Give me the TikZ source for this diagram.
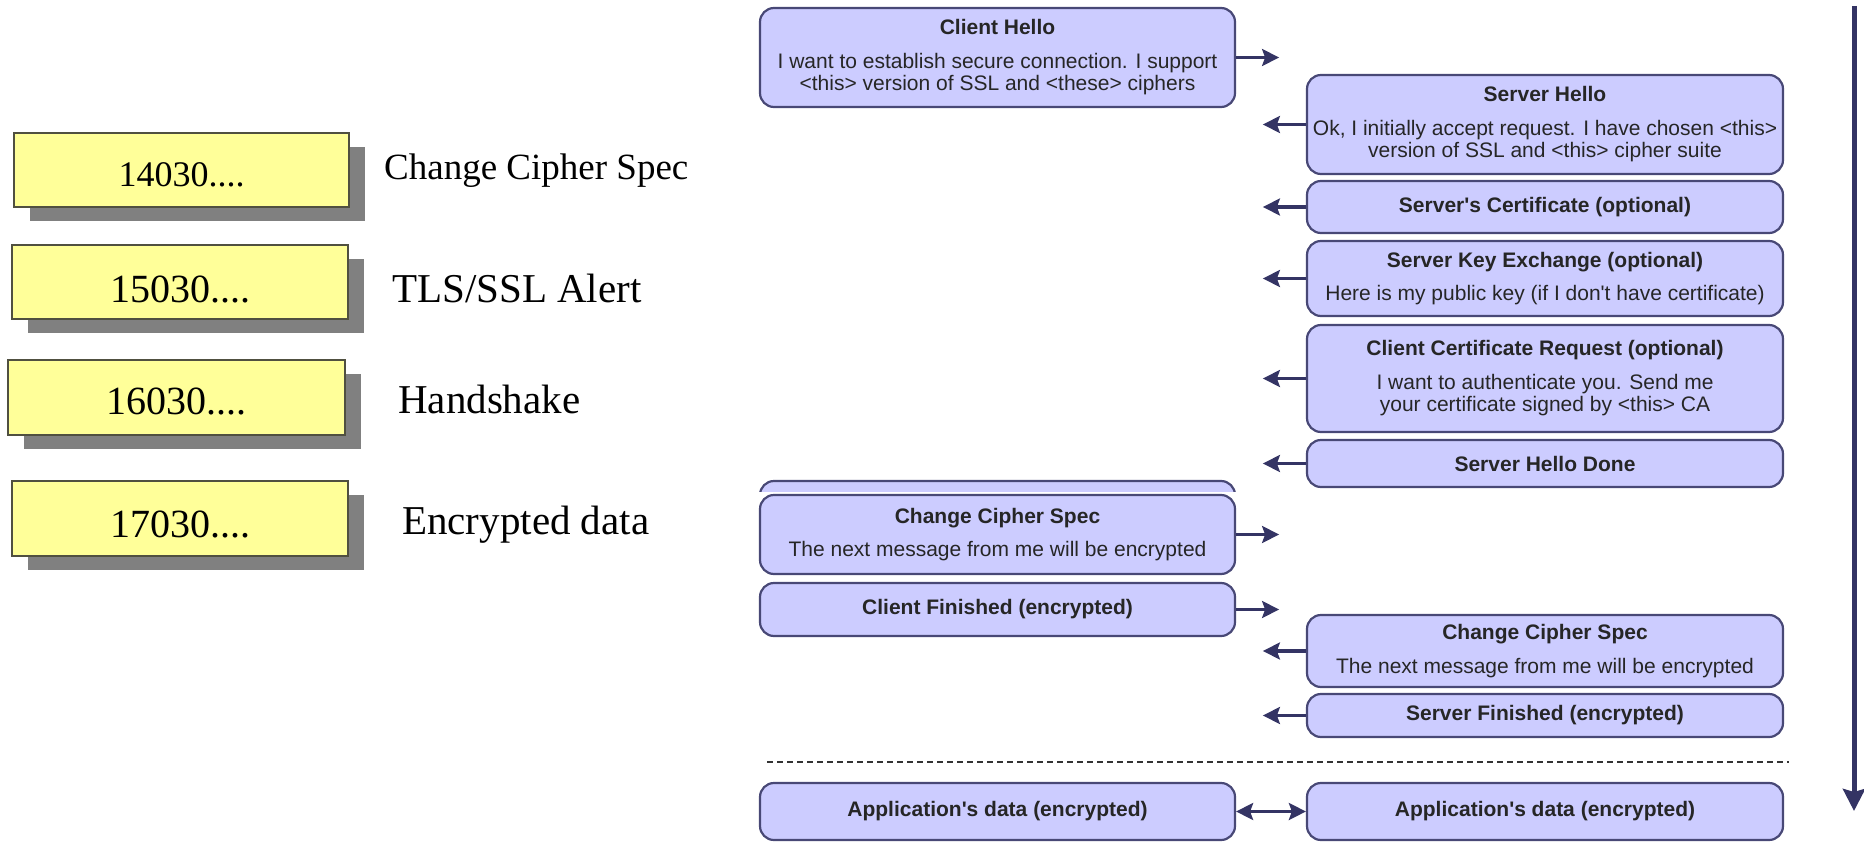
\documentclass[tikz,border=0pt]{standalone}
\usepackage{fontspec}
\setmainfont{Liberation Serif}
\newfontfamily\msgfont{Liberation Sans}
\usetikzlibrary{shadows,arrows.meta}

\definecolor{msgfill}{RGB}{204,204,255}
\definecolor{msgline}{RGB}{72,72,118}
\definecolor{flowcol}{RGB}{52,52,100}
\definecolor{recfill}{RGB}{255,255,153}
\definecolor{recline}{RGB}{80,80,64}
\definecolor{shadowgray}{RGB}{128,128,128}

\tikzset{
  msg/.style={draw=msgline, fill=msgfill, line width=2.2pt, rounded corners=14pt,
    inner sep=0pt, align=center, text=black!85,
    font=\msgfont\fontsize{21}{22.5}\selectfont},
  tip/.tip={Stealth[length=17pt, width=17pt, inset=3pt]},
  flow/.style={draw=flowcol, line width=3.2pt, -tip},
  both/.style={draw=flowcol, line width=3.2pt, tip-tip},
  record/.style={draw=recline, fill=recfill, line width=1.6pt, inner sep=0pt,
    drop shadow={shadow xshift=16pt, shadow yshift=-14pt, fill=shadowgray, opacity=1}},
  bytes/.style={inner sep=0pt, text=black},
  rectext/.style={anchor=west, inner sep=0pt, text=black}
}
\newcommand\msgtitle[1]{\textbf{#1}\\[11pt]}

\begin{document}
\begin{tikzpicture}[x=1pt, y=-1pt]
\useasboundingbox (0,0) rectangle (1864,843);

% record type bytes
\node[record, minimum width=335pt, minimum height=74pt] (r14) at (181.5,170) {};
\node[record, minimum width=336pt, minimum height=74pt] (r15) at (180,282) {};
\node[record, minimum width=337pt, minimum height=75pt] (r16) at (176.5,397.5) {};
\node[record, minimum width=336pt, minimum height=75pt] (r17) at (180,518.5) {};
\node[bytes, font=\fontsize{36}{40}\selectfont] (b14) at ([yshift=-5pt]r14.center) {14030....};
\node[bytes, font=\fontsize{40}{44}\selectfont] (b15) at ([yshift=-7pt]r15.center) {15030....};
\node[bytes, font=\fontsize{40}{44}\selectfont] (b16) at ([yshift=-4pt]r16.center) {16030....};
\node[bytes, font=\fontsize{40}{44}\selectfont] (b17) at ([yshift=-6pt]r17.center) {17030....};

\node[rectext, font=\fontsize{37}{40}\selectfont] (l14) at (384,171) {Change Cipher Spec};
\node[rectext, font=\fontsize{41}{44}\selectfont] (l15) at (392,288) {TLS/SSL Alert};
\node[rectext, font=\fontsize{41}{44}\selectfont] (l16) at (398,399) {Handshake};
\node[rectext, font=\fontsize{41}{44}\selectfont] (l17) at (402,525) {Encrypted data};

% handshake messages, client column
\node[msg, minimum width=475pt, minimum height=99pt] (ch) at (997.5,57.5)
  {\msgtitle{Client Hello}I want to establish secure connection. I support\\<this> version of SSL and <these> ciphers};

% server column
\node[msg, minimum width=476pt, minimum height=99pt] (sh) at (1545,124.5)
  {\msgtitle{Server Hello}Ok, I initially accept request. I have chosen <this>\\version of SSL and <this> cipher suite};
\node[msg, minimum width=476pt, minimum height=52pt] (sc) at (1545,207)
  {\textbf{Server's Certificate (optional)}};
\node[msg, minimum width=476pt, minimum height=75pt] (ske) at (1545,278.5)
  {\msgtitle{Server Key Exchange (optional)}Here is my public key (if I don't have certificate)};
\node[msg, minimum width=476pt, minimum height=107pt] (ccr) at (1545,378.5)
  {\msgtitle{Client Certificate Request (optional)}I want to authenticate you. Send me\\your certificate signed by <this> CA};
\node[msg, minimum width=476pt, minimum height=47pt] (shd) at (1545,463.5)
  {\textbf{Server Hello Done}};

% edge of a box hidden behind the next one
\begin{scope}
  \clip (740,470) rectangle (1260,491);
  \draw[msg] (760,481) rectangle (1235,560);
\end{scope}

\node[msg, minimum width=475pt, minimum height=79pt] (ccsc) at (997.5,534.5)
  {\msgtitle{Change Cipher Spec}The next message from me will be encrypted};
\node[msg, minimum width=475pt, minimum height=53pt] (cf) at (997.5,609.5)
  {\textbf{Client Finished (encrypted)}};
\node[msg, minimum width=476pt, minimum height=72pt] (ccss) at (1545,651)
  {\msgtitle{Change Cipher Spec}The next message from me will be encrypted};
\node[msg, minimum width=476pt, minimum height=43pt] (sf) at (1545,715.5)
  {\textbf{Server Finished (encrypted)}};

\node[msg, minimum width=475pt, minimum height=57pt] (appc) at (997.5,811.5)
  {\textbf{Application's data (encrypted)}};
\node[msg, minimum width=476pt, minimum height=57pt] (apps) at (1545,811.5)
  {\textbf{Application's data (encrypted)}};

% message directions
\coordinate (chx) at ([xshift=43pt]ch.east);
\draw[flow] (ch.east) -- (chx);
\foreach \m in {sh,sc,ske,ccr,shd,ccss,sf}{
  \coordinate (\m x) at ([xshift=-43pt]\m.west);
  \draw[flow] (\m.west) -- (\m x);
}
\foreach \m in {ccsc,cf}{
  \coordinate (\m x) at ([xshift=43pt]\m.east);
  \draw[flow] (\m.east) -- (\m x);
}
\draw[both] (appc.east) -- (apps.west);

% separator before application data
\coordinate (sepL) at (767,762);
\coordinate (sepR) at (1789,762);
\draw[black!80, line width=2pt, dash pattern=on 6pt off 4pt] (sepL) -- (sepR);

% time axis
\coordinate (tStart) at (1854,6);
\coordinate (tEnd) at (1854,811);
\draw[draw=flowcol, line width=5pt, -{Stealth[length=22pt,width=22pt,inset=3pt]}] (tStart) -- (tEnd);
\end{tikzpicture}
\end{document}
